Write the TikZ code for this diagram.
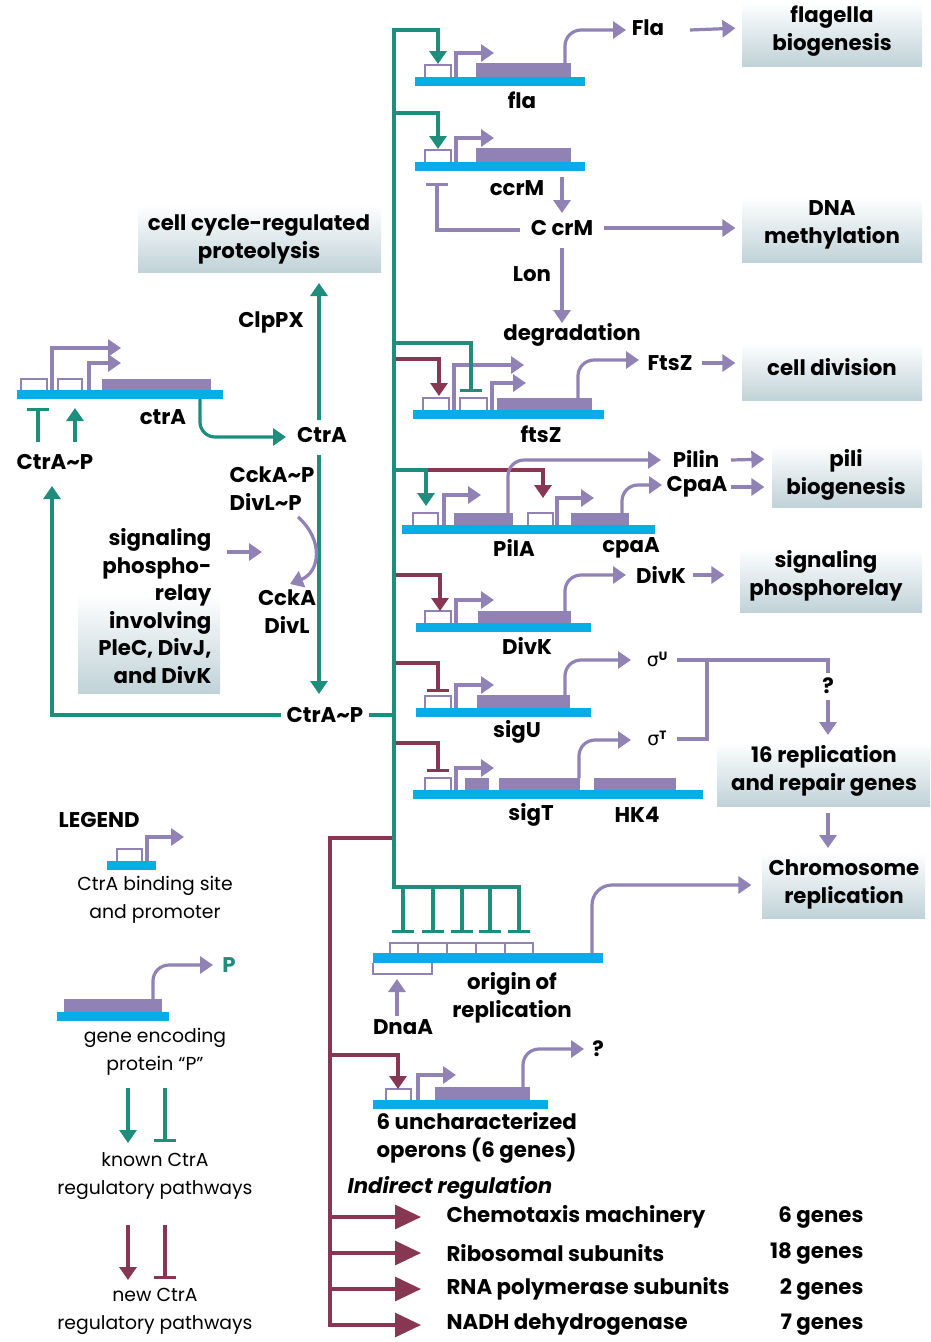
\documentclass[tikz,border=0pt]{standalone}
\usepackage{fontspec}
\setmainfont{Poppins}
\newfontfamily\sigfont{DejaVu Sans}
\usetikzlibrary{arrows.meta}
\definecolor{teal1}{RGB}{30,142,124}
\definecolor{maroon1}{RGB}{135,55,82}
\definecolor{lav}{RGB}{145,130,182}
\definecolor{dna}{RGB}{8,172,230}
\definecolor{boxg}{RGB}{192,210,216}
\newcommand\tld{\textasciitilde}
\newcommand\sigm[1]{{\sigfont\fontsize{19}{19}\selectfont σ}\raisebox{6pt}{\fontsize{12}{12}\selectfont\bfseries #1}}
\begin{document}
\begin{tikzpicture}[x=1pt,y=-1pt,line width=3.2pt,
 tl/.style={draw=teal1},
 mr/.style={draw=maroon1},
 pu/.style={draw=lav},
 act/.style={-{Triangle[length=13pt,width=17pt]}},
 inh/.style={-{Bar[width=22pt]}},
 bigact/.style={-{Triangle[length=26pt,width=24pt]}},
 lab/.style={font=\bfseries\fontsize{21.3}{28}\selectfont, inner sep=0pt, align=center},
 leg/.style={font=\fontsize{18.8}{28}\selectfont, inner sep=0pt, align=center},
 site/.style={draw=lav, line width=2.6pt},
 gbox/.style={top color=white, bottom color=boxg, draw=none, inner sep=0pt},
]
\useasboundingbox (0,0) rectangle (931,1342);
\fill[white] (0,0) rectangle (931,1342);

% ---------- gradient boxes ----------
\node[gbox, minimum width=243pt, minimum height=67pt] (protbox) at (259.5,238.5) {};
\node[gbox, minimum width=180pt, minimum height=64pt] (flagbox) at (832,34) {};
\node[gbox, minimum width=180pt, minimum height=65pt] (dnabox) at (832,229.5) {};
\node[gbox, minimum width=180pt, minimum height=57pt] (divbox) at (832,371.5) {};
\node[gbox, minimum width=150pt, minimum height=62pt] (pilibox) at (847,476) {};
\node[gbox, minimum width=182pt, minimum height=64pt] (sigbox) at (831,580) {};
\node[gbox, minimum width=213pt, minimum height=64pt] (repbox) at (823.5,774) {};
\node[gbox, minimum width=163pt, minimum height=66pt] (chrbox) at (843.5,885) {};
\node[gbox, minimum width=142pt, minimum height=100pt] (relaybox) at (149,643) {};

% ---------- texts ----------
\node[lab] at (259,239) {cell cycle-regulated\\proteolysis};
\node[lab] (ClpPX) at (271,322) {ClpPX};
\node[lab] (CtrA) at (322,435) {CtrA};
\node[lab] (ctrAg) at (163,417) {ctrA};
\node[lab] (CtrAPl) at (55,462) {CtrA\tld P};
\node[lab, anchor=west, align=left] (CckAP) at (228,488.5) {CckA\tld P\\DivL\tld P};
\node[lab] (CckA) at (287,611.5) {CckA\\DivL};
\node[lab, anchor=east, align=right, font=\bfseries\fontsize{21.3}{27.6}\selectfont] (relay) at (213,606) {signaling\\phospho-\\relay\\involving\\PleC, DivJ,\\and DivK};
\node[lab] (CtrAP) at (325,715) {CtrA\tld P};

\node[lab] (Fla) at (648,28) {Fla};
\node[lab] at (832,31) {flagella\\biogenesis};
\node[lab] at (522,100) {fla};
\node[lab] (ccrM) at (517,188) {ccrM};
\node[lab] (CcrM) at (562,228) {C crM};
\node[lab] at (532,274) {Lon};
\node[lab] (degr) at (572,335) {degradation};
\node[lab] at (832,225) {DNA\\methylation};
\node[lab] (FtsZ) at (670,363) {FtsZ};
\node[lab] at (541,434) {ftsZ};
\node[lab] at (832,367) {cell division};
\node[lab] (Pilin) at (696,459) {Pilin};
\node[lab] (CpaA) at (697,487) {CpaA};
\node[lab] at (846,474.5) {pili\\biogenesis};
\node[lab] at (514,548) {PilA};
\node[lab] at (631,548) {cpaA};
\node[lab] (DivK) at (661,575) {DivK};
\node[lab] at (527,646) {DivK};
\node[lab] at (826,576) {signaling\\phosphorelay};
\node[inner sep=0pt] (sU) at (657,659) {\sigm{U}};
\node[lab] at (517,732) {sigU};
\node[inner sep=0pt] (sT) at (657,738) {\sigm{T}};
\node[lab] at (531,815) {sigT};
\node[lab] at (637,815) {HK4};
\node[lab] (q1) at (828,686) {?};
\node[lab] at (824,771) {16 replication\\and repair genes};
\node[lab] at (844,884) {Chromosome\\replication};
\node[lab] at (512,998) {origin of\\replication};
\node[lab] (DnaA) at (403,1027) {DnaA};
\node[lab] (q2) at (598,1049) {?};
\node[lab, anchor=west, align=left] at (375,1137.5) {6 uncharacterized\\operons (6 genes)};
\node[lab, anchor=west, font=\bfseries\itshape\fontsize{21.3}{28}\selectfont] at (346,1188) {Indirect regulation};
\node[lab, anchor=west] (r1) at (445,1217) {Chemotaxis machinery};
\node[lab, anchor=west] (r2) at (445,1253) {Ribosomal subunits};
\node[lab, anchor=west] (r3) at (445,1289) {RNA polymerase subunits};
\node[lab, anchor=west] (r4) at (445,1325) {NADH dehydrogenase};
\node[lab, anchor=east] at (865,1217) {6 genes};
\node[lab, anchor=east] at (865,1253) {18 genes};
\node[lab, anchor=east] at (865,1289) {2 genes};
\node[lab, anchor=east] at (865,1325) {7 genes};

% legend texts
\node[lab, anchor=west] at (57,820) {LEGEND};
\node[leg] at (155,900) {CtrA binding site\\and promoter};
\node[lab, text=teal1] (Pleg) at (229,965) {P};
\node[leg] at (155,1051.5) {gene encoding\\protein “P”};
\node[leg] at (155,1176) {known CtrA\\regulatory pathways};
\node[leg] at (155,1311) {new CtrA\\regulatory pathways};

% ---------- DNA / gene glyphs ----------
% fla
\fill[dna] (415,77) rectangle (585,86);
\draw[site] (425,77)--(425,65)--(451,65)--(451,77);
\draw[pu,act] (456,77) |- (494,53);
\fill[lav] (476,63) rectangle (571,77);
\draw[pu,act,rounded corners=16pt] (565,63) |- (626,30);
% ccrM
\fill[dna] (415,162) rectangle (585,171);
\draw[site] (425,162)--(425,150)--(451,150)--(451,162);
\draw[pu,act] (456,162) |- (494,138);
\fill[lav] (476,148) rectangle (571,162);
% ftsZ
\fill[dna] (413,410) rectangle (604,419);
\draw[site] (423,410)--(423,398)--(449,398)--(449,410);
\draw[site] (460,410)--(460,398)--(487,398)--(487,410);
\draw[pu,act] (454,410) |- (524,365);
\draw[pu,act] (492,410) |- (526,383);
\fill[lav] (497,398) rectangle (592,410);
\draw[pu,act,rounded corners=16pt] (578,398) |- (639,360);
% pilA / cpaA
\fill[dna] (402,525) rectangle (655,534);
\draw[site] (413,525)--(413,513)--(438,513)--(438,525);
\draw[pu,act] (444,525) |- (481,495);
\fill[lav] (454,513) rectangle (513,525);
\draw[site] (528,525)--(528,513)--(553,513)--(553,525);
\draw[pu,act] (557,525) |- (594,498);
\fill[lav] (571,513) rectangle (629,525);
% DivK
\fill[dna] (416,623) rectangle (591,632);
\draw[site] (425,623)--(425,611)--(451,611)--(451,623);
\draw[pu,act] (456,623) |- (494,600);
\fill[lav] (478,611) rectangle (571,623);
\draw[pu,act,rounded corners=16pt] (565,611) |- (626,575);
% sigU
\fill[dna] (416,708) rectangle (591,717);
\draw[site] (425,708)--(425,696)--(451,696)--(451,708);
\draw[pu,act] (456,708) |- (494,685);
\fill[lav] (477,695) rectangle (570,708);
\draw[pu,act,rounded corners=16pt] (565,695) |- (631,660);
% sigT / HK4
\fill[dna] (413,790) rectangle (703,799);
\draw[site] (425,790)--(425,778)--(451,778)--(451,790);
\draw[pu,act] (456,790) |- (494,768);
\fill[lav] (465,778) rectangle (489,790);
\fill[lav] (499,778) rectangle (580,790);
\fill[lav] (594,778) rectangle (676,790);
\draw[pu,act,rounded corners=16pt] (579,778) |- (631,740);
% origin
\fill[dna] (373,953) rectangle (603,963);
\draw[site] (390,953)--(390,943)--(533,943)--(533,953);
\foreach \x in {418,447,476,505} \draw[site] (\x,943)--(\x,953);
\draw[site] (373,963)--(373,974)--(432,974)--(432,963);
\draw[pu,act] (DnaA.north -| 397,0) ++(0,-2) -- (397,979);
\draw[pu,act,rounded corners=20pt,shorten >=9pt] (592,953) |- (chrbox.west);
% 6 uncharacterized
\fill[dna] (373,1100) rectangle (548,1109);
\draw[site] (386,1100)--(386,1089)--(411,1089)--(411,1100);
\draw[pu,act] (418,1100) |- (456,1075);
\fill[lav] (435,1087) rectangle (530,1100);
\draw[pu,act,rounded corners=16pt] (523,1087) |- (584,1049);
% ctrA
\fill[dna] (17,390) rectangle (223,399);
\draw[site] (21,390)--(21,379)--(47,379)--(47,390);
\draw[site] (58,390)--(58,379)--(82,379)--(82,390);
\draw[pu,act] (52,390) |- (121,348);
\draw[pu,act] (89,390) |- (121,363);
\fill[lav] (102,379) rectangle (211,390);
% legend glyphs
\fill[dna] (107,861) rectangle (156,870);
\draw[site] (117,861)--(117,849)--(142,849)--(142,861);
\draw[pu,act] (147,861) |- (184,837);
\fill[dna] (57,1012) rectangle (169,1021);
\fill[lav] (64,999) rectangle (162,1012);
\draw[pu,act,rounded corners=16pt] (153,999) |- (213,965);
\draw[tl,act] (128,1088)--(128,1143);
\draw[tl,inh] (165,1088)--(165,1142);
\draw[mr,act] (128,1225)--(128,1280);
\draw[mr,inh] (165,1225)--(165,1279);

% ---------- maroon (new) pathways ----------
\draw[mr,act] (394,359) -- (439,359) -- (439,396);
\draw[mr,act] (426,470) -- (543,470) -- (543,498);
\draw[mr,act] (394,575) -- (440,575) -- (440,611);
\draw[mr,inh] (394,663) -- (438,663) -- (438,692);
\draw[mr,inh] (394,743) -- (438,743) -- (438,772);
\draw[mr,bigact,shorten >=24pt] (394,838) -- (330,838) -- (330,1325) -- (r4.west);
\draw[mr,act] (330,1055) -- (398,1055) -- (398,1089);
\draw[mr,bigact,shorten >=24pt] (330,1217) -- (r1.west);
\draw[mr,bigact,shorten >=24pt] (330,1253) -- (r2.west);
\draw[mr,bigact,shorten >=24pt] (330,1289) -- (r3.west);

% pilin output over maroon
\draw[pu,act,rounded corners=16pt] (508,513) |- (661,460);
\draw[pu,act,rounded corners=16pt] (622,513) |- (662,485);

% ---------- teal (known) pathways ----------
\draw[tl,act] (521,887) -- (394,887) -- (394,30) -- (438,30) -- (438,64);
\draw[tl,act] (394,113) -- (438,113) -- (438,149);
\draw[tl,inh] (394,343) -- (471,343) -- (471,392);
\draw[tl,act] (394,470) -- (426,470) -- (426,506);
\foreach \x in {403,433,462,490,519} \draw[tl,inh] (\x,887) -- (\x,933);
\draw[tl] (CtrAP.east) ++(4,0) -- (394,715);
\draw[tl,act] (CtrAP.west) ++(-4,0) -- (52,715) -- (52,486);
\draw[tl,act] (319,420) -- (319,283);
\draw[tl,act] (319,455) -- (319,694);
\draw[tl,act,rounded corners=15pt] (200,399) |- (286,437);
\draw[tl,inh] (38,442) -- (38,408);
\draw[tl,act] (75,442) -- (75,408);

% ---------- purple links ----------
\draw[pu,inh] (520,230) -- (437,230) -- (437,183);
\draw[pu,act] (562,177) -- (562,213);
\draw[pu,act,shorten >=5pt] (604,228) -- (CcrM.east -| dnabox.west);
\draw[pu,act] (562,248) -- (562,323);
\draw[pu,act,shorten >=5pt] (690,30) -- (Fla.east -| flagbox.west);
\draw[pu,act,shorten >=5pt] (702,363) -- (FtsZ.east -| divbox.west);
\draw[pu,act,shorten >=6pt] (731,460) -- (Pilin.east -| pilibox.west);
\draw[pu,act,shorten >=6pt] (731,487) -- (CpaA.east -| pilibox.west);
\draw[pu,act,shorten >=14pt] (693,575) -- (DivK.east -| sigbox.west);
\draw[pu] (677,660) -- (828,660) -- (828,673);
\draw[pu] (707,660) -- (707,739) -- (677,739);
\draw[pu,act] (828,700) -- (828,735);
\draw[pu,act] (828,813) -- (828,848);
\draw[pu,act] (227,552) -- (262,552);
\draw[pu,act] (298,517) .. controls (324,540) and (320,572) .. (290,584);
\end{tikzpicture}
\end{document}
